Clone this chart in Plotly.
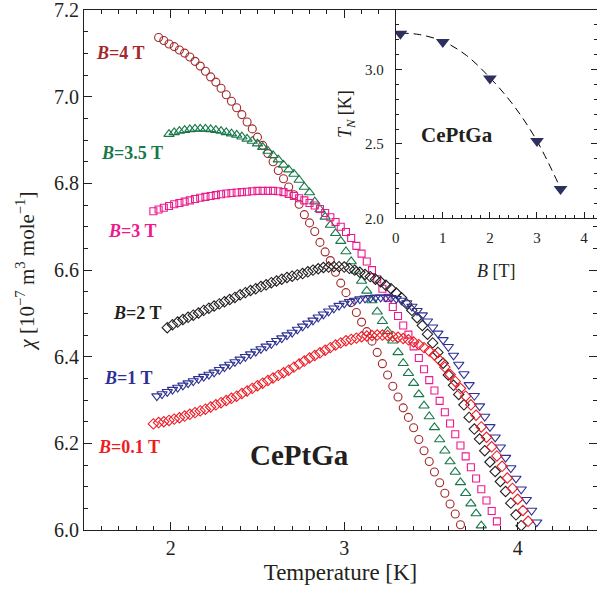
import plotly.graph_objects as go

# ---------------- data ----------------
T_B4 = [1.93,1.96,1.99,2.02,2.05,2.08,2.11,2.14,2.17,2.20,2.23,2.26,2.29,2.32,2.35,2.38,2.41,2.44,2.47,2.50,
        2.53,2.56,2.59,2.62,2.65,2.68,2.71,2.74,2.77,2.80,2.83,2.86,2.89,2.92,2.95,2.98,3.01,3.04,3.07,3.10,
        3.13,3.16,3.19,3.22,3.25,3.28,3.31,3.34,3.37,3.40,3.43,3.46,3.49,3.52,3.55,3.58,3.61,3.64,3.67]
CHI_B4 = [7.137,7.130,7.122,7.116,7.108,7.101,7.092,7.082,7.071,7.059,
          7.046,7.034,7.020,7.005,6.990,6.975,6.959,6.942,6.926,6.907,
          6.888,6.869,6.850,6.830,6.811,6.792,6.774,6.752,6.728,6.709,
          6.689,6.664,6.642,6.622,6.595,6.570,6.548,6.525,6.502,6.480,
          6.458,6.436,6.410,6.384,6.358,6.332,6.307,6.282,6.260,6.236,
          6.209,6.183,6.158,6.134,6.109,6.085,6.060,6.037,6.012]

T_B35 = [1.99,2.02,2.05,2.08,2.11,2.14,2.17,2.20,2.23,2.26,2.29,2.32,2.35,2.38,2.41,2.44,2.47,2.50,2.53,2.56,
         2.59,2.62,2.65,2.68,2.71,2.74,2.77,2.80,2.83,2.86,2.89,2.92,2.95,2.98,3.01,3.04,3.07,3.10,3.13,3.16,
         3.19,3.22,3.25,3.28,3.31,3.34,3.37,3.40,3.43,3.46,3.49,3.52,3.55,3.58,3.61,3.64,3.67,3.70,3.73,3.76,3.79]
CHI_B35 = [6.914,6.918,6.921,6.923,6.925,6.926,6.926,6.926,6.925,6.923,
           6.921,6.918,6.915,6.912,6.908,6.903,6.898,6.892,6.884,6.875,
           6.865,6.855,6.843,6.832,6.822,6.808,6.792,6.779,6.758,6.740,
           6.723,6.704,6.685,6.667,6.643,6.620,6.598,6.575,6.552,6.530,
           6.504,6.482,6.459,6.437,6.410,6.385,6.362,6.339,6.313,6.287,
           6.262,6.237,6.209,6.183,6.158,6.134,6.110,6.085,6.061,6.038,6.010]

T_B3 = [1.90,1.93,1.96,1.99,2.02,2.05,2.08,2.11,2.14,2.17,2.20,2.23,2.26,2.29,2.32,2.35,2.38,2.41,2.44,2.47,
        2.50,2.53,2.56,2.59,2.62,2.65,2.68,2.71,2.74,2.77,2.80,2.83,2.86,2.89,2.92,2.95,2.98,3.01,3.04,3.07,
        3.10,3.13,3.16,3.19,3.22,3.25,3.28,3.31,3.34,3.37,3.40,3.43,3.46,3.49,3.52,3.55,3.58,3.61,3.64,3.67,
        3.70,3.73,3.76,3.79,3.82,3.85,3.88]
CHI_B3 = [6.736,6.740,6.744,6.748,6.752,6.755,6.758,6.761,6.764,6.767,
          6.769,6.771,6.773,6.775,6.777,6.778,6.779,6.780,6.781,6.782,
          6.783,6.783,6.783,6.783,6.782,6.780,6.776,6.771,6.766,6.761,
          6.755,6.749,6.741,6.732,6.722,6.711,6.700,6.688,6.674,6.656,
          6.638,6.620,6.600,6.579,6.557,6.536,6.515,6.494,6.472,6.451,
          6.424,6.397,6.371,6.346,6.322,6.298,6.272,6.246,6.221,6.195,
          6.170,6.145,6.119,6.094,6.068,6.044,6.020]

T_B2 = [1.98,2.01,2.04,2.07,2.10,2.13,2.16,2.19,2.22,2.25,2.28,2.31,2.34,2.37,2.40,2.43,2.46,2.49,2.52,2.55,
        2.58,2.61,2.64,2.67,2.70,2.73,2.76,2.79,2.82,2.85,2.88,2.91,2.94,2.97,3.00,3.03,3.06,3.09,3.12,3.15,
        3.18,3.21,3.24,3.27,3.30,3.33,3.36,3.39,3.42,3.45,3.48,3.51,3.54,3.57,3.60,3.63,3.66,3.69,3.72,3.75,
        3.78,3.81,3.84,3.87,3.90,3.93,3.96,3.99,4.02]
CHI_B2 = [6.467,6.474,6.480,6.486,6.491,6.496,6.501,6.507,6.512,6.517,
          6.522,6.527,6.532,6.537,6.543,6.548,6.553,6.557,6.562,6.566,
          6.571,6.575,6.579,6.583,6.586,6.589,6.592,6.596,6.600,6.603,
          6.606,6.607,6.608,6.608,6.607,6.604,6.600,6.595,6.590,6.585,
          6.579,6.573,6.565,6.557,6.547,6.536,6.522,6.507,6.490,6.472,
          6.452,6.432,6.410,6.385,6.358,6.334,6.313,6.289,6.260,6.233,
          6.210,6.183,6.157,6.135,6.112,6.089,6.062,6.035,6.010]

T_B1 = [1.92,1.95,1.98,2.01,2.04,2.07,2.10,2.13,2.16,2.19,2.22,2.25,2.28,2.31,2.34,2.37,2.40,2.43,2.46,2.49,
        2.52,2.55,2.58,2.61,2.64,2.67,2.70,2.73,2.76,2.79,2.82,2.85,2.88,2.91,2.94,2.97,3.00,3.03,3.06,3.09,
        3.12,3.15,3.18,3.21,3.24,3.27,3.30,3.33,3.36,3.39,3.42,3.45,3.48,3.51,3.54,3.57,3.60,3.63,3.66,3.69,
        3.72,3.75,3.78,3.81,3.84,3.87,3.90,3.93,3.96,3.99,4.02,4.05,4.08,4.11]
CHI_B1 = [6.309,6.314,6.319,6.324,6.329,6.334,6.339,6.344,6.349,6.354,
          6.359,6.364,6.370,6.376,6.382,6.388,6.394,6.400,6.406,6.412,
          6.418,6.424,6.430,6.437,6.443,6.450,6.456,6.463,6.470,6.477,
          6.484,6.491,6.498,6.505,6.512,6.518,6.523,6.527,6.530,6.533,
          6.535,6.536,6.537,6.537,6.537,6.536,6.534,6.530,6.524,6.516,
          6.506,6.496,6.482,6.468,6.454,6.439,6.423,6.403,6.382,6.360,
          6.335,6.310,6.286,6.262,6.238,6.214,6.191,6.167,6.143,6.119,
          6.094,6.070,6.045,6.018]

T_B01 = [1.90,1.93,1.96,1.99,2.02,2.05,2.08,2.11,2.14,2.17,2.20,2.23,2.26,2.29,2.32,2.35,2.38,2.41,2.44,2.47,
         2.50,2.53,2.56,2.59,2.62,2.65,2.68,2.71,2.74,2.77,2.80,2.83,2.86,2.89,2.92,2.95,2.98,3.01,3.04,3.07,
         3.10,3.13,3.16,3.19,3.22,3.25,3.28,3.31,3.34,3.37,3.40,3.43,3.46,3.49,3.52,3.55,3.58,3.61,3.64,3.67,
         3.70,3.73,3.76,3.79,3.82,3.85,3.88,3.91,3.94,3.97,4.00,4.03,4.06]
CHI_B01 = [6.245,6.248,6.250,6.253,6.256,6.259,6.263,6.267,6.271,6.275,
           6.279,6.284,6.289,6.294,6.299,6.304,6.309,6.315,6.321,6.327,
           6.333,6.339,6.345,6.351,6.357,6.363,6.369,6.376,6.383,6.390,
           6.397,6.403,6.409,6.415,6.421,6.427,6.432,6.437,6.440,6.443,
           6.446,6.448,6.449,6.450,6.450,6.449,6.447,6.445,6.442,6.439,
           6.434,6.428,6.421,6.413,6.404,6.392,6.376,6.359,6.343,6.327,
           6.309,6.289,6.265,6.238,6.214,6.192,6.171,6.147,6.120,6.096,
           6.071,6.045,6.020]

# inset: Neel temperature vs field
B_FIELD = [0.1, 1.0, 2.0, 3.0, 3.5]
T_NEEL = [3.24, 3.185, 2.94, 2.52, 2.197]
B_FIT = [0.1, 0.5, 1.0, 1.5, 2.0, 2.5, 3.0, 3.5]
T_FIT = [3.245, 3.235, 3.19, 3.095, 2.945, 2.76, 2.52, 2.20]

LABELS = ["<i>B</i>=4 T", "<i>B</i>=3.5 T", "<i>B</i>=3 T", "<i>B</i>=2 T", "<i>B</i>=1 T", "<i>B</i>=0.1 T"]

X_TICKS = [2, 3, 4]
Y_TICKS = [6.0, 6.2, 6.4, 6.6, 6.8, 7.0, 7.2]
X2_TICKS = [0, 1, 2, 3, 4]
Y2_TICKS = [2.0, 2.5, 3.0]

# ---------------- style ----------------
FONT = "Liberation Serif"
AX = "#231f20"
C_B4, C_B35, C_B3, C_B2, C_B1, C_B01 = "#a12a2d", "#17784a", "#ec1b8d", "#231f20", "#2e3192", "#ee1c25"

series = [
    (T_B4, CHI_B4, C_B4, "circle-open", 8),
    (T_B35, CHI_B35, C_B35, "triangle-up-open", 9),
    (T_B3, CHI_B3, C_B3, "square-open", 7),
    (T_B2, CHI_B2, C_B2, "diamond-open", 8),
    (T_B1, CHI_B1, C_B1, "triangle-down-open", 9),
    (T_B01, CHI_B01, C_B01, "diamond-open", 8),
]

fig = go.Figure()
for t, c, col, sym, sz in series:
    fig.add_trace(go.Scatter(x=t, y=c, mode="markers", cliponaxis=True,
                             marker=dict(symbol=sym, size=sz, color=col, line=dict(color=col, width=1.1)),
                             showlegend=False, xaxis="x", yaxis="y"))

fig.add_trace(go.Scatter(x=B_FIT, y=T_FIT, mode="lines", line=dict(color="black", width=1, dash="8px,5px", shape="spline"),
                         showlegend=False, xaxis="x2", yaxis="y2"))
fig.add_trace(go.Scatter(x=B_FIELD, y=T_NEEL, mode="markers",
                         marker=dict(symbol="triangle-down", size=12, color="#2d2f5f"),
                         showlegend=False, xaxis="x2", yaxis="y2"))

# label positions (T, chi)
label_pos = [(1.708, 7.101), (1.775, 6.870), (1.775, 6.690), (1.804, 6.501), (1.755, 6.351), (1.761, 6.192)]
label_col = [C_B4, C_B35, C_B3, C_B2, C_B1, C_B01]
for txt, (lx, ly), col in zip(LABELS, label_pos, label_col):
    fig.add_annotation(x=lx, y=ly, xref="x", yref="y", text="<b>" + txt + "</b>", showarrow=False,
                       font=dict(family=FONT, size=18, color=col))

fig.add_annotation(x=2.743, y=6.173, xref="x", yref="y", text="<b>CePtGa</b>", showarrow=False,
                   font=dict(family=FONT, size=29, color=AX))
fig.add_annotation(x=1.295, y=2.559, xref="x2", yref="y2", text="<b>CePtGa</b>", showarrow=False,
                   font=dict(family=FONT, size=21, color=AX))

common = dict(showline=True, linecolor=AX, linewidth=1, ticks="inside", tickcolor=AX, tickwidth=1,
              showgrid=False, zeroline=False, color=AX)

fig.update_layout(
    width=597, height=593, autosize=False,
    margin=dict(l=84, r=0, t=10, b=63, pad=0),
    paper_bgcolor="white", plot_bgcolor="white",
    font=dict(family=FONT, color=AX),
    xaxis=dict(range=[1.5, 4.457], tickmode="array", tickvals=X_TICKS, ticktext=[str(v) for v in X_TICKS],
               ticklen=8, mirror="ticks",
               minor=dict(dtick=0.1, tick0=0, ticks="inside", ticklen=4, tickcolor=AX, tickwidth=1),
               tickfont=dict(family=FONT, size=20), title=dict(text="Temperature [K]", font=dict(family=FONT, size=23), standoff=5),
               **common),
    yaxis=dict(range=[6.0, 7.2005], tickmode="array", tickvals=Y_TICKS, ticktext=["%.1f" % v for v in Y_TICKS],
               ticklen=8, mirror="ticks", ticklabeloverflow="allow",
               minor=dict(dtick=0.05, tick0=0, ticks="inside", ticklen=4, tickcolor=AX, tickwidth=1),
               tickfont=dict(family=FONT, size=20),
               title=dict(text="<i>χ</i> [10<sup>−7</sup> m<sup>3</sup> mole<sup>−1</sup>]", font=dict(family=FONT, size=21), standoff=13),
               **common),
    xaxis2=dict(domain=[0.6076, 1.0], anchor="y2", range=[0, 4.274], tickmode="array", tickvals=X2_TICKS,
                ticktext=[str(v) for v in X2_TICKS], ticklen=6,
                minor=dict(dtick=0.2, tick0=0, ticks="inside", ticklen=3.5, tickcolor=AX, tickwidth=1),
                tickfont=dict(family=FONT, size=15), ticklabelstandoff=6,
                title=dict(text="<i>B</i> [T]", font=dict(family=FONT, size=18), standoff=19),
                **common),
    yaxis2=dict(domain=[0.5994, 1.0], anchor="x2", range=[2.0, 3.4], tickmode="array", tickvals=Y2_TICKS,
                ticktext=["%.1f" % v for v in Y2_TICKS], ticklen=6, mirror="ticks",
                minor=dict(dtick=0.1, tick0=0, ticks="inside", ticklen=3.5, tickcolor=AX, tickwidth=1),
                tickfont=dict(family=FONT, size=15), ticklabelstandoff=8,
                title=dict(text="<i>T</i><sub><i>N</i></sub> [K]", font=dict(family=FONT, size=18), standoff=8),
                **common),
)

fig.write_html("out.html")
